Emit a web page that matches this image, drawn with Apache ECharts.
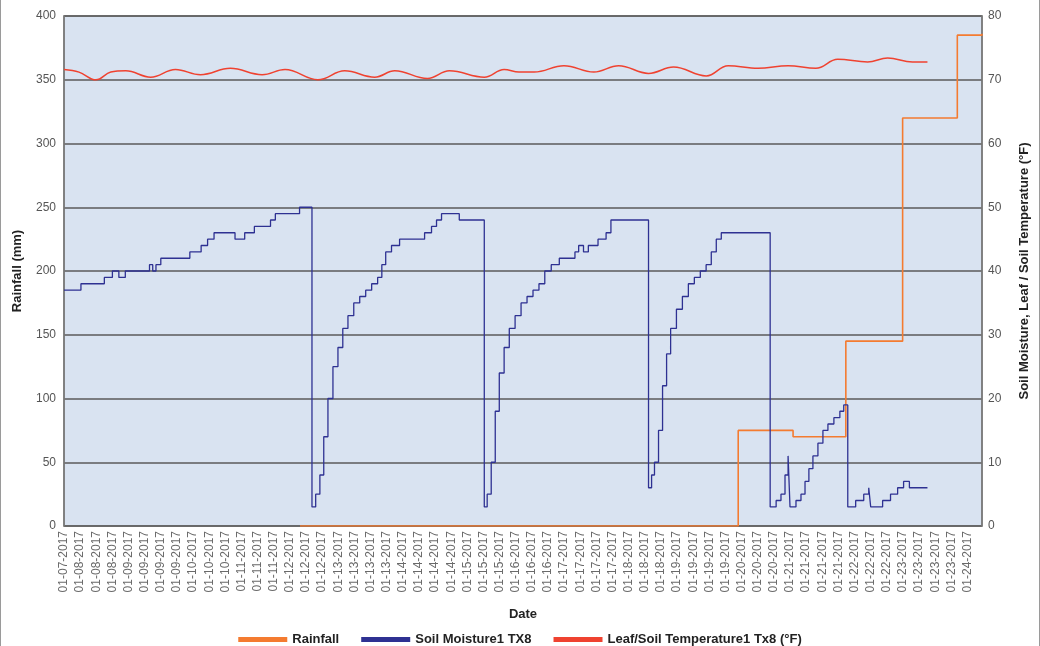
<!DOCTYPE html>
<html>
<head>
<meta charset="utf-8">
<script src="https://cdn.jsdelivr.net/npm/echarts@6/dist/echarts.min.js"></script>
<style>
  html, body { margin: 0; padding: 0; background: #fff; }
  #chart { width: 1040px; height: 646px; box-sizing: border-box; border-left: 1px solid #9a9a9a; border-right: 1px solid #9a9a9a; }
</style>
</head>
<body>
<div id="chart"></div>
<script>
// x tick labels, one per tick (tick index = x value)
const dateLabels = [
  '01-07-2017',
  '01-08-2017', '01-08-2017', '01-08-2017',
  '01-09-2017', '01-09-2017', '01-09-2017', '01-09-2017',
  '01-10-2017', '01-10-2017', '01-10-2017',
  '01-11-2017', '01-11-2017', '01-11-2017',
  '01-12-2017', '01-12-2017', '01-12-2017',
  '01-13-2017', '01-13-2017', '01-13-2017', '01-13-2017',
  '01-14-2017', '01-14-2017', '01-14-2017', '01-14-2017',
  '01-15-2017', '01-15-2017', '01-15-2017',
  '01-16-2017', '01-16-2017', '01-16-2017',
  '01-17-2017', '01-17-2017', '01-17-2017', '01-17-2017',
  '01-18-2017', '01-18-2017', '01-18-2017',
  '01-19-2017', '01-19-2017', '01-19-2017', '01-19-2017',
  '01-20-2017', '01-20-2017', '01-20-2017',
  '01-21-2017', '01-21-2017', '01-21-2017', '01-21-2017',
  '01-22-2017', '01-22-2017', '01-22-2017',
  '01-23-2017', '01-23-2017', '01-23-2017', '01-23-2017',
  '01-24-2017'
]
const xEnd = 56.9

// rainfall (mm), [tick position, value], cumulative steps
const rainfall = [
  [14.63, 0], [41.79, 75], [45.19, 70], [48.46, 145],
  [51.98, 320], [55.37, 385], [56.9, 386]
]

// soil moisture (right axis), [tick position, value]
const soilMoisture = [
  [0, 37], [1.05, 38], [2.5, 39], [3.0, 40], [3.4, 39], [3.8, 40], [5.3, 41], [5.5, 40],
  [5.7, 41], [6.0, 42], [7.8, 43], [8.5, 44], [8.9, 45], [9.3, 46], [10.6, 45], [11.2, 46],
  [11.8, 47], [12.8, 48], [13.1, 49], [14.6, 50],
  [15.37, 3], [15.6, 5], [15.86, 8], [16.1, 14], [16.36, 20], [16.67, 25], [16.98, 28],
  [17.28, 31], [17.6, 33], [17.96, 35], [18.33, 36], [18.7, 37], [19.07, 38], [19.44, 39],
  [19.7, 41], [19.94, 43], [20.3, 44], [20.8, 45], [22.35, 46], [22.78, 47], [23.09, 48],
  [23.4, 49], [24.5, 48],
  [26.05, 3], [26.23, 5], [26.48, 10], [26.73, 18], [26.98, 24], [27.28, 28], [27.6, 31],
  [27.96, 33], [28.33, 35], [28.7, 36], [29.07, 37], [29.44, 38], [29.8, 40], [30.2, 41],
  [30.7, 42], [31.67, 43], [31.9, 44], [32.2, 43], [32.5, 44], [33.1, 45], [33.6, 46],
  [33.9, 48],
  [36.23, 6], [36.42, 8], [36.6, 10], [36.85, 15], [37.1, 22], [37.35, 27], [37.6, 31],
  [37.96, 34], [38.33, 36], [38.7, 38], [39.07, 39], [39.44, 40], [39.8, 41], [40.12, 43],
  [40.43, 45], [40.74, 46],
  [43.77, 3], [44.14, 4], [44.44, 5], [44.69, 8], [44.88, 11], [45.0, 3], [45.37, 4],
  [45.68, 5], [45.93, 7], [46.17, 9], [46.42, 11], [46.73, 13], [47.04, 15], [47.35, 16],
  [47.72, 17], [48.09, 18], [48.33, 19],
  [48.58, 3], [49.07, 4], [49.57, 5], [49.88, 6], [50.0, 3], [50.74, 4], [51.23, 5],
  [51.67, 6], [52.04, 7], [52.4, 6], [53.52, 6]
]

// leaf / soil temperature (F), right axis
const leafTemp = [
  [0, 71.6], [0.93, 71.2], [1.98, 70.0], [2.9, 71.2], [3.83, 71.4], [5.37, 70.4],
  [6.91, 71.6], [8.46, 70.8], [10.31, 71.8], [12.28, 70.8], [13.7, 71.6], [15.74, 70.0],
  [17.4, 71.4], [19.26, 70.4], [20.5, 71.4], [22.53, 70.2], [23.89, 71.4], [26.05, 70.4],
  [27.28, 71.6], [28.2, 71.2], [29.14, 71.2], [30.99, 72.2], [32.84, 71.2], [34.38, 72.2],
  [36.23, 71.0], [37.78, 72.0], [39.81, 70.6], [41.17, 72.2], [43.02, 71.8], [44.88, 72.2],
  [46.6, 71.8], [47.96, 73.2], [49.81, 72.8], [51.05, 73.4], [52.59, 72.8], [53.52, 72.8]
]

const chart = echarts.init(document.getElementById('chart'))
const font = 'Liberation Sans, Arial, sans-serif'

chart.setOption({
  animation: false,
  textStyle: { fontFamily: font },
  grid: {
    left: 63, right: 53, top: 16, bottom: 120,
    show: true,
    backgroundColor: '#d9e3f1',
    borderColor: '#7a7a7a',
    borderWidth: 1.5
  },
  legend: {
    top: 628,
    left: 'center',
    icon: 'rect',
    itemWidth: 49,
    itemHeight: 5,
    itemGap: 22,
    textStyle: { fontSize: 13, fontWeight: 'bold', color: '#222' },
    data: ['Rainfall', 'Soil Moisture1 TX8', 'Leaf/Soil Temperature1 Tx8 (°F)']
  },
  xAxis: {
    type: 'value',
    min: 0,
    max: xEnd,
    interval: 1,
    name: 'Date',
    nameLocation: 'middle',
    nameGap: 82,
    nameTextStyle: { fontSize: 13, fontWeight: 'bold', color: '#222' },
    axisLine: { show: false },
    axisTick: { show: false },
    splitLine: { show: false },
    axisLabel: {
      rotate: 90,
      margin: 5,
      fontSize: 12,
      color: '#6a6a6a',
      showMaxLabel: false,
      formatter: v => dateLabels[v] || ''
    }
  },
  yAxis: [{
    type: 'value',
    min: 0,
    max: 400,
    interval: 50,
    position: 'left',
    name: 'Rainfall (mm)',
    nameLocation: 'middle',
    nameGap: 40,
    nameTextStyle: { fontSize: 13, fontWeight: 'bold', color: '#222' },
    axisLine: { show: true, lineStyle: { color: '#7a7a7a', width: 1.5 } },
    axisTick: { show: false },
    axisLabel: { fontSize: 12, color: '#555', margin: 8 },
    splitLine: { lineStyle: { color: '#5a5a5a', width: 1.5 } }
  }, {
    type: 'value',
    min: 0,
    max: 80,
    interval: 10,
    position: 'right',
    name: 'Soil Moisture, Leaf / Soil Temperature (°F)',
    nameLocation: 'middle',
    nameGap: 36,
    nameRotate: 90,
    nameTextStyle: { fontSize: 13, fontWeight: 'bold', color: '#222' },
    axisLine: { show: true, lineStyle: { color: '#7a7a7a', width: 1.5 } },
    axisTick: { show: false },
    axisLabel: { fontSize: 12, color: '#555', margin: 6 },
    splitLine: { show: false }
  }],
  series: [{
    name: 'Rainfall',
    type: 'line',
    step: 'end',
    yAxisIndex: 0,
    showSymbol: false,
    color: '#f47b30',
    lineStyle: { width: 1.6 },
    data: rainfall
  }, {
    name: 'Soil Moisture1 TX8',
    type: 'line',
    step: 'end',
    yAxisIndex: 1,
    showSymbol: false,
    color: '#2e3192',
    lineStyle: { width: 1.3 },
    data: soilMoisture
  }, {
    name: 'Leaf/Soil Temperature1 Tx8 (°F)',
    type: 'line',
    smooth: 0.4,
    yAxisIndex: 1,
    showSymbol: false,
    color: '#ef4230',
    lineStyle: { width: 1.5 },
    data: leafTemp
  }]
})
</script>
</body>
</html>
